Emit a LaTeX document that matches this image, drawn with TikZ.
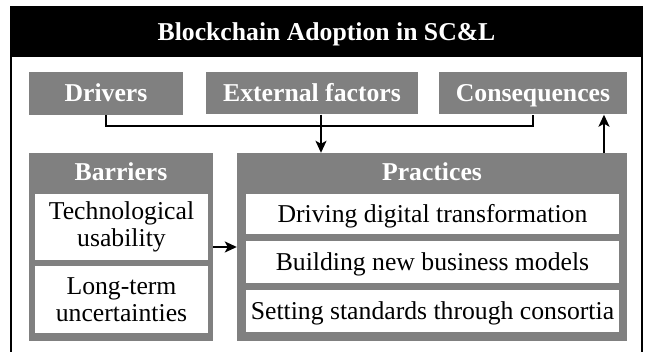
\documentclass[tikz,border=0pt]{standalone}
\usepackage{fontspec}
\setmainfont{Liberation Serif}
\usetikzlibrary{arrows.meta}
\definecolor{boxgray}{HTML}{808080}
\begin{document}
\begin{tikzpicture}[x=1pt,y=-1pt,
  capfix/.style={text height=17pt, text depth=0pt},
  graybox/.style={rectangle, fill=boxgray, text=white, inner sep=0pt, capfix, font=\fontsize{25.7}{28}\selectfont\bfseries},
  panel/.style={rectangle, fill=boxgray, inner sep=0pt},
  paneltitle/.style={inner sep=0pt, text=white, capfix, font=\fontsize{25.7}{28}\selectfont\bfseries},
  whitebox/.style={rectangle, fill=white, inner sep=0pt, align=center, font=\fontsize{25.7}{26.5}\selectfont},
  conn/.style={line width=2pt, black},
  arr/.style={line width=2pt, black, -{Stealth[length=12pt,width=11pt,inset=3pt]}}
]
\useasboundingbox (0,0) rectangle (649,352);
% header
\node[rectangle, fill=black, minimum width=631pt, minimum height=50pt, inner sep=0pt, text=white, capfix,
      font=\fontsize{25.7}{28}\selectfont\bfseries] (head) at (326.5,32) {Blockchain Adoption in SC\&L};
% top boxes
\node[graybox, minimum width=154pt, minimum height=43pt] (drv) at (106,93.5) {Drivers};
\node[graybox, minimum width=212pt, minimum height=42pt] (ext) at (312,93.5) {External factors};
\node[graybox, minimum width=188pt, minimum height=42pt] (cons) at (533,93.5) {Consequences};
% panels
\node[panel, minimum width=184pt, minimum height=188pt] (bar) at (121,247) {};
\node[paneltitle] (bartitle) at (121,172) {Barriers};
\node[whitebox, minimum width=173pt, minimum height=66pt] (tech) at (121.5,227) {Technological\\usability};
\node[whitebox, minimum width=173pt, minimum height=67pt] (long) at (121.5,299.5) {Long-term\\uncertainties};
\node[panel, minimum width=390pt, minimum height=188pt] (prac) at (432,247) {};
\node[paneltitle] (practitle) at (432,172) {Practices};
\node[whitebox, capfix, minimum width=373pt, minimum height=40pt] (p1) at (432.5,214) {Driving digital transformation};
\node[whitebox, capfix, minimum width=373pt, minimum height=42pt] (p2) at (432.5,262) {Building new business models};
\node[whitebox, capfix, minimum width=373pt, minimum height=42pt] (p3) at (432.5,311) {Setting standards through consortia};
% connectors
\coordinate (ax) at (321,0);
\coordinate (bx) at (604,0);
\draw[conn] (drv.south) -- ++(0,11) -| (cons.south);
\draw[arr] (ext.south -| ax) -- (prac.north -| ax);
\draw[arr] (bar.east) -- (prac.west);
\draw[arr] (prac.north -| bx) -- (cons.south -| bx);
% frame
\draw[line width=2.5pt] (11,7) rectangle (642,370);
\end{tikzpicture}
\end{document}
